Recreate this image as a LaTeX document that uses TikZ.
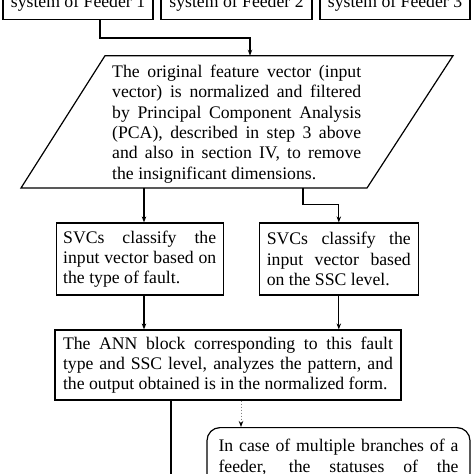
\documentclass[tikz,border=0pt]{standalone}
\usepackage{fontspec}
\setmainfont{Liberation Serif}
\usetikzlibrary{arrows.meta,calc}
\begin{document}
\begin{tikzpicture}[x=1pt,y=1pt,
  txt/.style={font=\fontsize{17.7}{20.3}\selectfont},
  blk/.style={txt,draw,line width=1.2pt,align=justify},
  ln/.style={line width=1.1pt},
  arr/.style={line width=1.1pt,-{Stealth[length=6pt,width=4.5pt]}}]
\useasboundingbox (0,0) rectangle (474,-474);
\clip (0,0) rectangle (474,-474);
\fill[white] (0,0) rectangle (474,-474);
% top boxes
\node[blk,align=center,anchor=south,minimum width=150pt,text height=30pt,text depth=12pt,inner ysep=0pt] (f1) at (78,-20) {system of Feeder 1};
\node[blk,align=center,anchor=south,minimum width=151pt,text height=30pt,text depth=12pt,inner ysep=0pt] (f2) at (236.5,-20) {system of Feeder 2};
\node[blk,align=center,anchor=south,minimum width=150pt,text height=30pt,text depth=12pt,inner ysep=0pt] (f3) at (395,-20) {system of Feeder 3};
% parallelogram
\coordinate (pTL) at (105,-55.7);
\coordinate (pTR) at (453,-55.7);
\coordinate (pBR) at (367,-188);
\coordinate (pBL) at (21,-188);
\draw[line width=1.2pt] (pTL)--(pTR)--(pBR)--(pBL)--cycle;
\node[txt,anchor=north west,text width=249pt,inner sep=0pt,align=justify] (pca) at (112,-65) {The original feature vector (input\linebreak vector) is normalized and filtered\linebreak by Principal Component Analysis\linebreak (PCA), described in step 3 above\linebreak and also in section IV, to remove\linebreak the insignificant dimensions.};
\coordinate (pin) at (250,-55.7);
\coordinate (pL) at (144,-188);
\coordinate (pR) at (303,-188);
\draw[arr] ([xshift=22pt]f1.south) |- ([yshift=17.7pt]pin) -- (pin);
% SVC boxes
\node[blk,text width=153pt,inner xsep=7pt,inner ysep=0pt,minimum height=72pt] (s1) at (139.7,-259) {SVCs classify the\linebreak input vector based on\linebreak the type of fault.};
\node[blk,text width=144pt,inner xsep=7.5pt,inner ysep=0pt,minimum height=72pt] (s2) at (338.8,-259) {SVCs classify the\linebreak input vector based\linebreak on the SSC level.};
\draw[arr] (pL) -- (pL |- s1.north);
\draw[arr] (pR) |- ([yshift=18pt]s2.north) -- (s2.north);
% ANN box
\node[blk,text width=330pt,inner xsep=8pt,inner ysep=0pt,minimum height=70pt] (ann) at (228,-365) {The ANN block corresponding to this fault\linebreak type and SSC level, analyzes the pattern, and\linebreak the output obtained is in the normalized form.};
\draw[arr] (s1.south -| pL) -- (ann.north -| pL);
\draw[arr] (s2.south) -- (s2.south |- ann.north);
% rounded box
\node[blk,rounded corners=13pt,anchor=north,text width=240pt,inner xsep=11.5pt,inner ysep=11.7pt] (rb) at (338.5,-427) {In case of multiple branches of a\linebreak feeder, the statuses of the\linebreak\null};
\coordinate (dd) at (241,-400);
\draw[dotted,gray,line width=1pt,-{Stealth[length=6pt,width=4.5pt,black]}] (ann.south -| dd) -- (rb.north -| dd);
\coordinate (aout) at (171,-480);
\draw[ln] (ann.south -| aout) -- (aout);
\end{tikzpicture}
\end{document}
